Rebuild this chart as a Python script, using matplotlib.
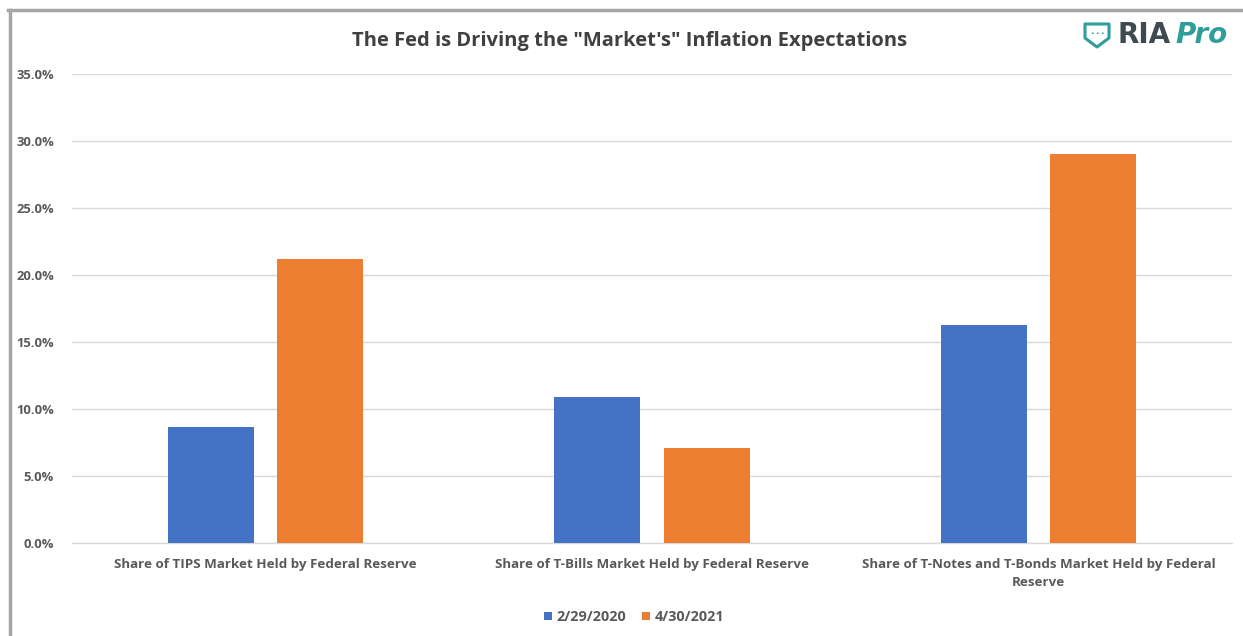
import matplotlib
matplotlib.use("Agg")
import matplotlib.pyplot as plt
import numpy as np
from matplotlib.patches import Polygon
from matplotlib.lines import Line2D
from matplotlib.ticker import PercentFormatter, MultipleLocator

categories = [
    "Share of TIPS Market Held by Federal Reserve",
    "Share of T-Bills Market Held by Federal Reserve",
    "Share of T-Notes and T-Bonds Market Held by Federal\nReserve",
]
series_names = ["2/29/2020", "4/30/2021"]
values_2020 = [8.65, 10.9, 16.3]
values_2021 = [21.2, 7.1, 29.0]
title = 'The Fed is Driving the "Market\'s" Inflation Expectations'

blue = "#4472C4"
orange = "#ED7D31"
txt = "#595959"

plt.rcParams['font.family'] = ['Open Sans', 'DejaVu Sans']

W, H = 1243, 636
fig = plt.figure(figsize=(W / 100, H / 100), dpi=100)
fig.patch.set_facecolor("white")

ax = fig.add_axes([72 / W, 1 - 543 / H, (1232 - 72) / W, (543 - 74) / H])
x = np.arange(len(categories))
bw = 0.222
off = 0.1415
ax.bar(x - off, values_2020, bw, color=blue, label=series_names[0], zorder=3)
ax.bar(x + off, values_2021, bw, color=orange, label=series_names[1], zorder=3)

ax.set_xlim(-0.5, 2.5)
ax.set_ylim(0, 35)
ax.yaxis.set_major_locator(MultipleLocator(5))
ax.yaxis.set_major_formatter(PercentFormatter(decimals=1))
ax.grid(axis="y", color="#d9d9d9", linewidth=1, zorder=0)
for s in ["top", "right", "left"]:
    ax.spines[s].set_visible(False)
ax.spines["bottom"].set_color("#d9d9d9")
ax.spines["bottom"].set_linewidth(1)
ax.tick_params(axis="y", length=0, pad=13, labelsize=9.4, labelcolor=txt)
ax.tick_params(axis="x", length=0, pad=11, labelsize=9.6, labelcolor=txt)
ax.set_xticks(x)
ax.set_xticklabels(categories, linespacing=1.45)
for lab in ax.get_yticklabels() + ax.get_xticklabels():
    lab.set_fontweight("bold")

fig.text(630 / W, 1 - 41 / H, title, ha="center", va="center", fontsize=14.5,
         fontweight="bold", color="#404040")

leg = fig.legend(loc="center", bbox_to_anchor=(634 / W, 1 - 617 / H), ncol=2,
                 frameon=False, fontsize=10.4, handlelength=0.55, handleheight=0.55,
                 handletextpad=0.3, columnspacing=1.1, labelcolor=txt)
for t in leg.get_texts():
    t.set_fontweight("bold")

# Border (top and left)
fig.add_artist(Line2D([8 / W, 1], [1 - 10 / H, 1 - 10 / H], color="#a6a6a6", linewidth=2.5,
                      transform=fig.transFigure))
fig.add_artist(Line2D([9.5 / W, 9.5 / W], [0, 1 - 10 / H], color="#a6a6a6", linewidth=2.5,
                      transform=fig.transFigure))

# Logo
teal = "#2f9e9a"
def px(xp, yp):
    return (xp / W, 1 - yp / H)
shield = [px(1085, 24), px(1109, 24), px(1109, 38), px(1097, 47), px(1085, 38)]
fig.add_artist(Polygon(shield, closed=True, fill=False, edgecolor=teal, linewidth=2.2,
                       transform=fig.transFigure, joinstyle="round"))
for dx in (1092, 1097, 1102):
    fig.text(dx / W, 1 - 33 / H, "·", ha="center", va="center", fontsize=9,
             color=teal, fontweight="bold")
ria = fig.text(1117 / W, 1 - 35 / H, "RIA", ha="left", va="center", fontsize=20,
               fontweight="bold", color="#3d4a50", family="DejaVu Sans")
fig.canvas.draw()
bb = ria.get_window_extent()
fig.text((bb.x1 + 5) / W, 1 - 35 / H, "Pro", ha="left", va="center", fontsize=20,
         fontweight="bold", fontstyle="italic", color=teal, family="DejaVu Sans")

fig.savefig("out.png", dpi=100, facecolor="white")
